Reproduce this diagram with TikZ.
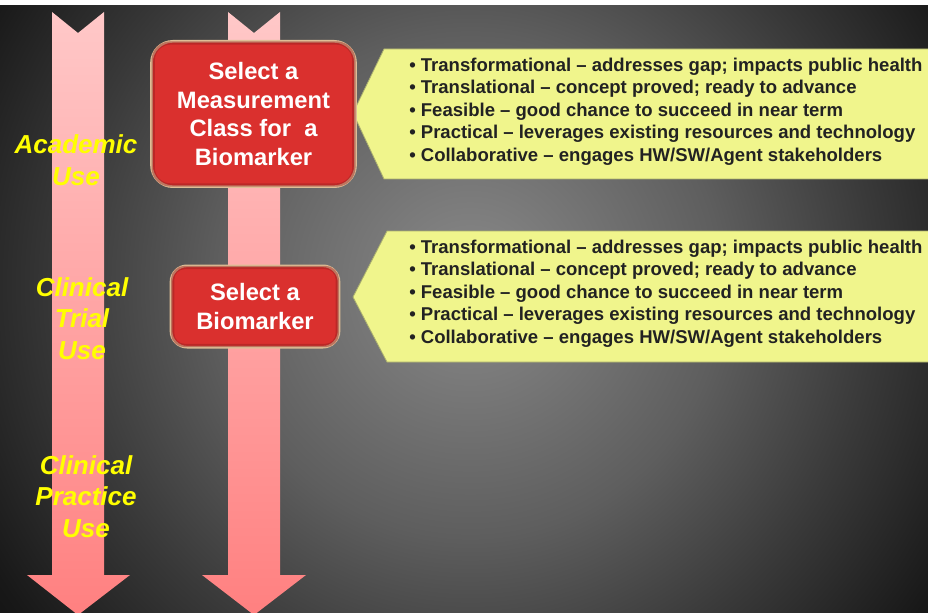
\documentclass[tikz,border=0pt]{standalone}
\usepackage{fontspec}
\setmainfont{Liberation Sans}
\definecolor{bgin}{RGB}{138,138,138}
\definecolor{bgmida}{RGB}{94,94,94}
\definecolor{bgmidb}{RGB}{58,58,58}
\definecolor{bgmidc}{RGB}{24,24,24}
\definecolor{bgout}{RGB}{14,14,14}
\definecolor{pinkT}{RGB}{255,200,200}
\definecolor{pinkB}{RGB}{255,128,128}
\definecolor{boxred}{RGB}{218,48,46}
\definecolor{boxdark}{RGB}{150,30,30}
\definecolor{boxrim}{RGB}{222,190,150}
\definecolor{calloutY}{RGB}{240,245,140}
\definecolor{calloutE}{RGB}{170,175,110}
\definecolor{txtdark}{RGB}{34,34,34}
\definecolor{lblY}{RGB}{255,255,0}
\pgfdeclareradialshading{bgshade}{\pgfpointorigin}{color(0bp)=(bgin); color(10bp)=(bgmida); color(16bp)=(bgmidb); color(22bp)=(bgmidc); color(25bp)=(bgout); color(50bp)=(bgout)}
\tikzset{
  pinkarrow/.style={top color=pinkT, bottom color=pinkB, draw=none},
  redbox/.style={rectangle, rounded corners=#1, fill=boxred, draw=boxrim, line width=2pt,
    text=white, font=\bfseries\fontsize{17.8}{21.4}\selectfont, align=center, inner sep=0pt},
  innerrim/.style={draw=boxdark, draw opacity=0.45, line width=2.5pt, rounded corners=#1},
  callout/.style={fill=calloutY, draw=calloutE, line width=0.6pt},
  bullets/.style={anchor=west, inner sep=0pt, align=left, text=txtdark,
    font=\bfseries\fontsize{13.9}{16.9}\selectfont},
  sidelbl/.style={align=center, inner sep=0pt, text=lblY,
    font=\bfseries\itshape\fontsize{19.5}{23.6}\selectfont}
}
\begin{document}
\begin{tikzpicture}[x=0.75pt,y=-0.75pt]
\useasboundingbox (0,0) rectangle (928,613);
\fill[white] (0,0) rectangle (928,613);
\begin{scope}
\clip (0,6) rectangle (928,613);
\fill[bgout] (0,6) rectangle (928,613);
\shade[shading=bgshade] (470,285) circle (630);
\end{scope}
% arrows
\shade[pinkarrow] (52,12) -- (78,33) -- (104,12) -- (104,575) -- (130,575) -- (78,615) -- (27,575) -- (52,575) -- cycle;
\shade[pinkarrow] (228,12) -- (254,33) -- (280,12) -- (280,575) -- (306,575) -- (254,615) -- (202,575) -- (228,575) -- cycle;
% callouts
\draw[callout] (353,113) -- (384,49) -- (930,49) -- (930,179) -- (384,179) -- cycle;
\draw[callout] (353,297) -- (387,231) -- (930,231) -- (930,362) -- (387,362) -- cycle;
\node[bullets] (b1) at (409,111.5) {\textbullet\ Transformational -- addresses gap; impacts public health\\
\textbullet\ Translational -- concept proved; ready to advance\\
\textbullet\ Feasible -- good chance to succeed in near term\\
\textbullet\ Practical -- leverages existing resources and technology\\
\textbullet\ Collaborative -- engages HW/SW/Agent stakeholders};
\node[bullets] (b2) at (409,293.5) {\textbullet\ Transformational -- addresses gap; impacts public health\\
\textbullet\ Translational -- concept proved; ready to advance\\
\textbullet\ Feasible -- good chance to succeed in near term\\
\textbullet\ Practical -- leverages existing resources and technology\\
\textbullet\ Collaborative -- engages HW/SW/Agent stakeholders};
% red boxes
\node[redbox=16pt, minimum width=153pt, minimum height=109pt] (box1) at (253.5,114) {Select a\\Measurement\\Class for\ \ a\\Biomarker};
\draw[innerrim=13pt] ([shift={(3,3)}]box1.north west) rectangle ([shift={(-3,-3)}]box1.south east);
\node[redbox=12pt, minimum width=126pt, minimum height=61pt] (box2) at (255,306.5) {Select a\\Biomarker};
\draw[innerrim=9pt] ([shift={(3,3)}]box2.north west) rectangle ([shift={(-3,-3)}]box2.south east);
% side labels
\node[sidelbl] (academic) at (76,160) {Academic\\Use};
\node[sidelbl] (trial) at (82,318.5) {Clinical\\Trial\\Use};
\node[sidelbl] (practice) at (86,496.5) {Clinical\\Practice\\Use};
\end{tikzpicture}
\end{document}
